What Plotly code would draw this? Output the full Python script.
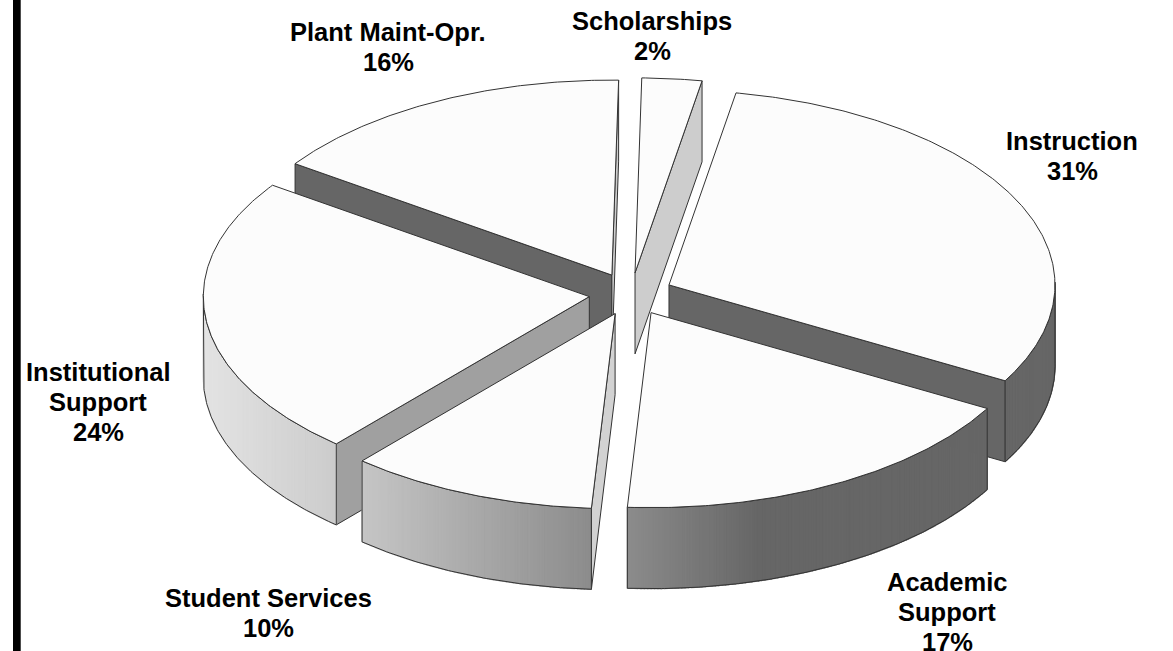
import numpy as np
import plotly.graph_objects as go

# Data
categories = ["Scholarships", "Instruction", "Academic Support", "Student Services",
              "Institutional Support", "Plant Maint-Opr."]
printed_percent = [2, 31, 17, 10, 24, 16]          # the percentages printed in the labels
drawn_share = [2.5, 30.4, 17.8, 10.4, 23.3, 15.6]  # wedge sizes
label_lines = [["Scholarships"], ["Instruction"], ["Academic", "Support"], ["Student Services"],
               ["Institutional", "Support"], ["Plant Maint-Opr."]]

# Geometry / style (pixel-space projection of a tilted pie)
W, H = 1173, 651
CX, CY = 631.0, 294.0
RX, RY = 386.0, 195.0
DEPTH = 81.0
EXPLODE = 42.0
START_DEG = 1.0
TOP_FILL = "#fcfcfc"
EDGE = "#333333"
FONT_SIZE = 25.5
LINE_STEP = 30
start_cut = {"Student Services": "#d2d2d2", "Institutional Support": "#a0a0a0", "Plant Maint-Opr.": "#666666"}
end_cut = {"Scholarships": "#cdcdcd", "Instruction": "#666666", "Plant Maint-Opr.": "#cdcdcd"}
draw_order = ["Scholarships", "Plant Maint-Opr.", "Instruction", "Institutional Support",
              "Student Services", "Academic Support"]
label_top = {"Scholarships": (652, 21), "Instruction": (1072, 141), "Academic Support": (947, 582),
             "Student Services": (268, 598), "Institutional Support": (98, 372), "Plant Maint-Opr.": (388, 32)}
shade_x = [201, 338, 592, 626, 760, 1100]
shade_v = [228, 204, 140, 140, 102, 102]


def poly(fig, xs, ys, fill, line=EDGE, width=1.0):
    fig.add_trace(go.Scatter(x=xs, y=ys, mode="lines", fill="toself", fillcolor=fill,
                             line=dict(color=line, width=width), hoverinfo="skip", showlegend=False))


fig = go.Figure()
total = sum(drawn_share)
edges = np.concatenate([[0], np.cumsum(drawn_share)]) / total * 360 + START_DEG
angles = {c: (edges[i], edges[i + 1]) for i, c in enumerate(categories)}

for name in draw_order:
    a0, a1 = angles[name]
    mid = np.radians((a0 + a1) / 2)
    ax = CX + EXPLODE * np.sin(mid)
    ay = CY - EXPLODE * RY / RX * np.cos(mid)
    th = np.linspace(a0, a1, max(int(a1 - a0) * 2, 8))
    px = ax + RX * np.sin(np.radians(th))
    py = ay - RY * np.cos(np.radians(th))
    if name in start_cut:
        poly(fig, [ax, px[0], px[0], ax, ax], [ay, py[0], py[0] + DEPTH, ay + DEPTH, ay], start_cut[name])
    if name in end_cut:
        poly(fig, [ax, px[-1], px[-1], ax, ax], [ay, py[-1], py[-1] + DEPTH, ay + DEPTH, ay], end_cut[name])
    front = np.cos(np.radians(th)) < 0.02
    if front.any():
        idx = np.where(front)[0]
        for i, j in zip(idx[:-1], idx[1:]):
            v = int(np.interp((px[i] + px[j]) / 2, shade_x, shade_v))
            c = f"rgb({v},{v},{v})"
            poly(fig, [px[i], px[j], px[j], px[i], px[i]],
                 [py[i], py[j], py[j] + DEPTH, py[i] + DEPTH, py[i]], c, line=c, width=1.2)
        wx, wy = px[idx], py[idx]
        fig.add_trace(go.Scatter(x=np.r_[wx, wx[::-1], wx[0]], y=np.r_[wy, wy[::-1] + DEPTH, wy[0]],
                                 mode="lines", line=dict(color=EDGE, width=1), hoverinfo="skip", showlegend=False))
    poly(fig, np.r_[ax, px, ax], np.r_[ay, py, ay], TOP_FILL)

annotations = []
for name, lines, val in zip(categories, label_lines, printed_percent):
    x, y = label_top[name]
    for k, txt in enumerate(lines + [f"{val}%"]):
        annotations.append(dict(x=x, y=y + k * LINE_STEP, xref="x", yref="y", text=f"<b>{txt}</b>", showarrow=False,
                                align="center", xanchor="center", yanchor="middle",
                                font=dict(family="Liberation Sans, Arial, sans-serif", size=FONT_SIZE, color="black")))

fig.update_layout(width=W, height=H, margin=dict(l=0, r=0, t=0, b=0), autosize=False,
                  paper_bgcolor="white", plot_bgcolor="white", annotations=annotations,
                  xaxis=dict(range=[0, W], visible=False, fixedrange=True),
                  yaxis=dict(range=[H, 0], visible=False, fixedrange=True),
                  shapes=[dict(type="rect", xref="x", yref="y", x0=13, x1=20.7, y0=0, y1=H,
                               fillcolor="black", line=dict(width=0), layer="above")])
fig.write_html("out.html", config={"displayModeBar": False}, post_script="document.body.style.margin='0';")
